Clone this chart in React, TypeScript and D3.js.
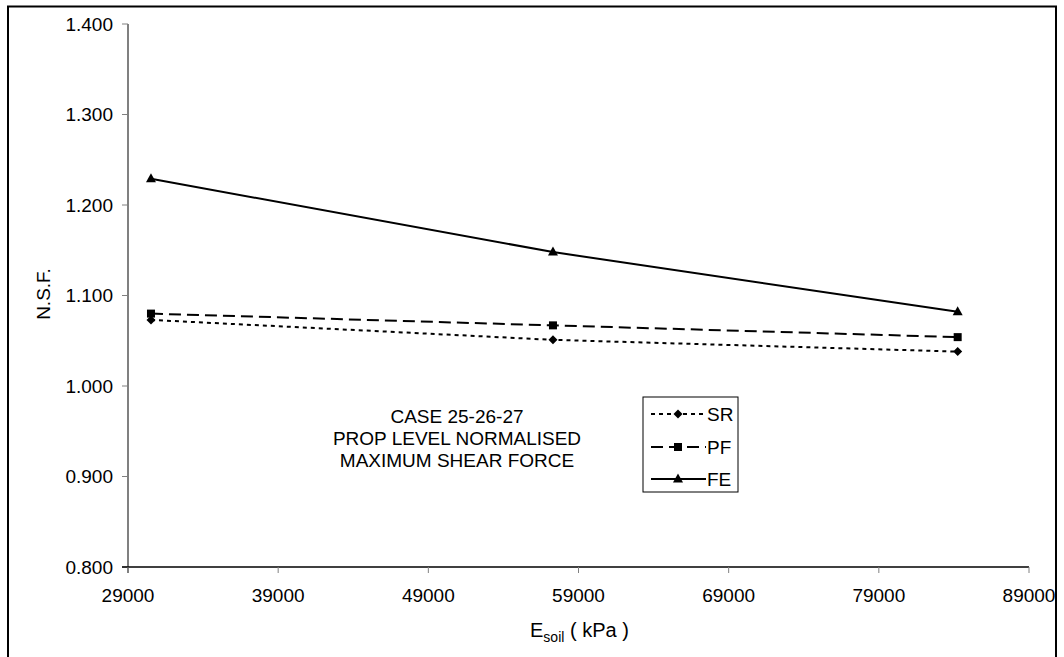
import React from "react";
import * as d3 from "d3";

// Soil modulus values (kPa) for the three cases
const esoil = [30530, 57300, 84250];
// Normalised shear force per method
const srValues = [1.073, 1.051, 1.038];
const pfValues = [1.08, 1.067, 1.054];
const feValues = [1.229, 1.148, 1.082];

const yTicks = [0.8, 0.9, 1.0, 1.1, 1.2, 1.3, 1.4];
const xTicks = [29000, 39000, 49000, 59000, 69000, 79000, 89000];

const seriesNames = ["SR", "PF", "FE"];
const noteLines = ["CASE 25-26-27", "PROP LEVEL NORMALISED", "MAXIMUM SHEAR FORCE"];

const W = 1064;
const H = 657;
const FONT = "'Liberation Sans', Arial, sans-serif";
const FS = 19;

const x = d3.scaleLinear().domain([29000, 89000]).range([128, 1029]);
const y = d3.scaleLinear().domain([0.8, 1.4]).range([567, 24]);

type Style = { dash: string; marker: "diamond" | "square" | "triangle" };
const styles: Style[] = [
  { dash: "4 4", marker: "diamond" },
  { dash: "12 6", marker: "square" },
  { dash: "", marker: "triangle" },
];

function Marker({ kind, cx, cy }: { kind: Style["marker"]; cx: number; cy: number }) {
  if (kind === "diamond") {
    const s = 4.5;
    return <path d={`M${cx},${cy - s}L${cx + s},${cy}L${cx},${cy + s}L${cx - s},${cy}Z`} fill="#000" />;
  }
  if (kind === "square") {
    return <rect x={cx - 4} y={cy - 4} width={8} height={8} fill="#000" />;
  }
  return <path d={`M${cx},${cy - 5.5}L${cx + 5},${cy + 3.5}L${cx - 5},${cy + 3.5}Z`} fill="#000" />;
}

export default function App() {
  const all = [srValues, pfValues, feValues];
  const line = d3
    .line<number>()
    .x((_, i) => x(esoil[i]))
    .y((v) => y(v));

  const legendX = 643;
  const legendY = 397;
  const legendRows = [414, 447, 479];

  return (
    <svg
      width={W}
      height={H}
      style={{ position: "absolute", left: 0, top: 0, background: "#fff" }}
      fontFamily={FONT}
    >
      <rect x={0} y={0} width={W} height={H} fill="#fff" />
      {/* outer chart frame */}
      <rect x={8} y={6.5} width={1048} height={700} fill="none" stroke="#000" strokeWidth={2} />

      {/* y axis */}
      <line x1={128} x2={128} y1={y(1.4)} y2={y(0.8) + 6} stroke="#808080" strokeWidth={2} />
      {yTicks.map((t) => (
        <g key={t}>
          <line x1={122} x2={128} y1={y(t)} y2={y(t)} stroke="#808080" strokeWidth={1} />
          <text x={113} y={y(t)} dy="0.35em" textAnchor="end" fontSize={FS} fill="#000">
            {d3.format(".3f")(t)}
          </text>
        </g>
      ))}

      {/* x axis */}
      <line x1={122} x2={x(89000)} y1={y(0.8)} y2={y(0.8)} stroke="#000" strokeWidth={1.5} />
      {xTicks.map((t) => (
        <g key={t}>
          <line x1={x(t)} x2={x(t)} y1={y(0.8)} y2={y(0.8) + 6} stroke="#808080" strokeWidth={1} />
          <text x={x(t)} y={602} textAnchor="middle" fontSize={FS} fill="#000">
            {t}
          </text>
        </g>
      ))}

      {/* axis titles */}
      <text
        transform="translate(50,294) rotate(-90)"
        textAnchor="middle"
        fontSize={FS}
        fill="#000"
      >
        N.S.F.
      </text>
      <text x={530} y={637} fontSize={FS + 1} fill="#000">
        E<tspan fontSize={14} dy={5}>soil</tspan>
        <tspan dy={-5}> ( kPa )</tspan>
      </text>

      {/* series */}
      {all.map((vals, si) => (
        <g key={seriesNames[si]}>
          <path
            d={line(vals) || ""}
            fill="none"
            stroke="#000"
            strokeWidth={2}
            strokeDasharray={styles[si].dash}
          />
          {vals.map((v, i) => (
            <Marker key={i} kind={styles[si].marker} cx={x(esoil[i])} cy={y(v)} />
          ))}
        </g>
      ))}

      {/* annotation */}
      {noteLines.map((t, i) => (
        <text key={t} x={457} y={423 + i * 22} textAnchor="middle" fontSize={FS} fill="#000">
          {t}
        </text>
      ))}

      {/* legend */}
      <rect x={legendX} y={legendY} width={95} height={95} fill="#fff" stroke="#000" strokeWidth={1} />
      {seriesNames.map((n, i) => (
        <g key={n}>
          <line
            x1={651}
            x2={706}
            y1={legendRows[i]}
            y2={legendRows[i]}
            stroke="#000"
            strokeWidth={2}
            strokeDasharray={styles[i].dash}
          />
          <Marker kind={styles[i].marker} cx={678} cy={legendRows[i]} />
          <text x={707} y={legendRows[i]} dy="0.35em" fontSize={FS} fill="#000">
            {n}
          </text>
        </g>
      ))}
    </svg>
  );
}
